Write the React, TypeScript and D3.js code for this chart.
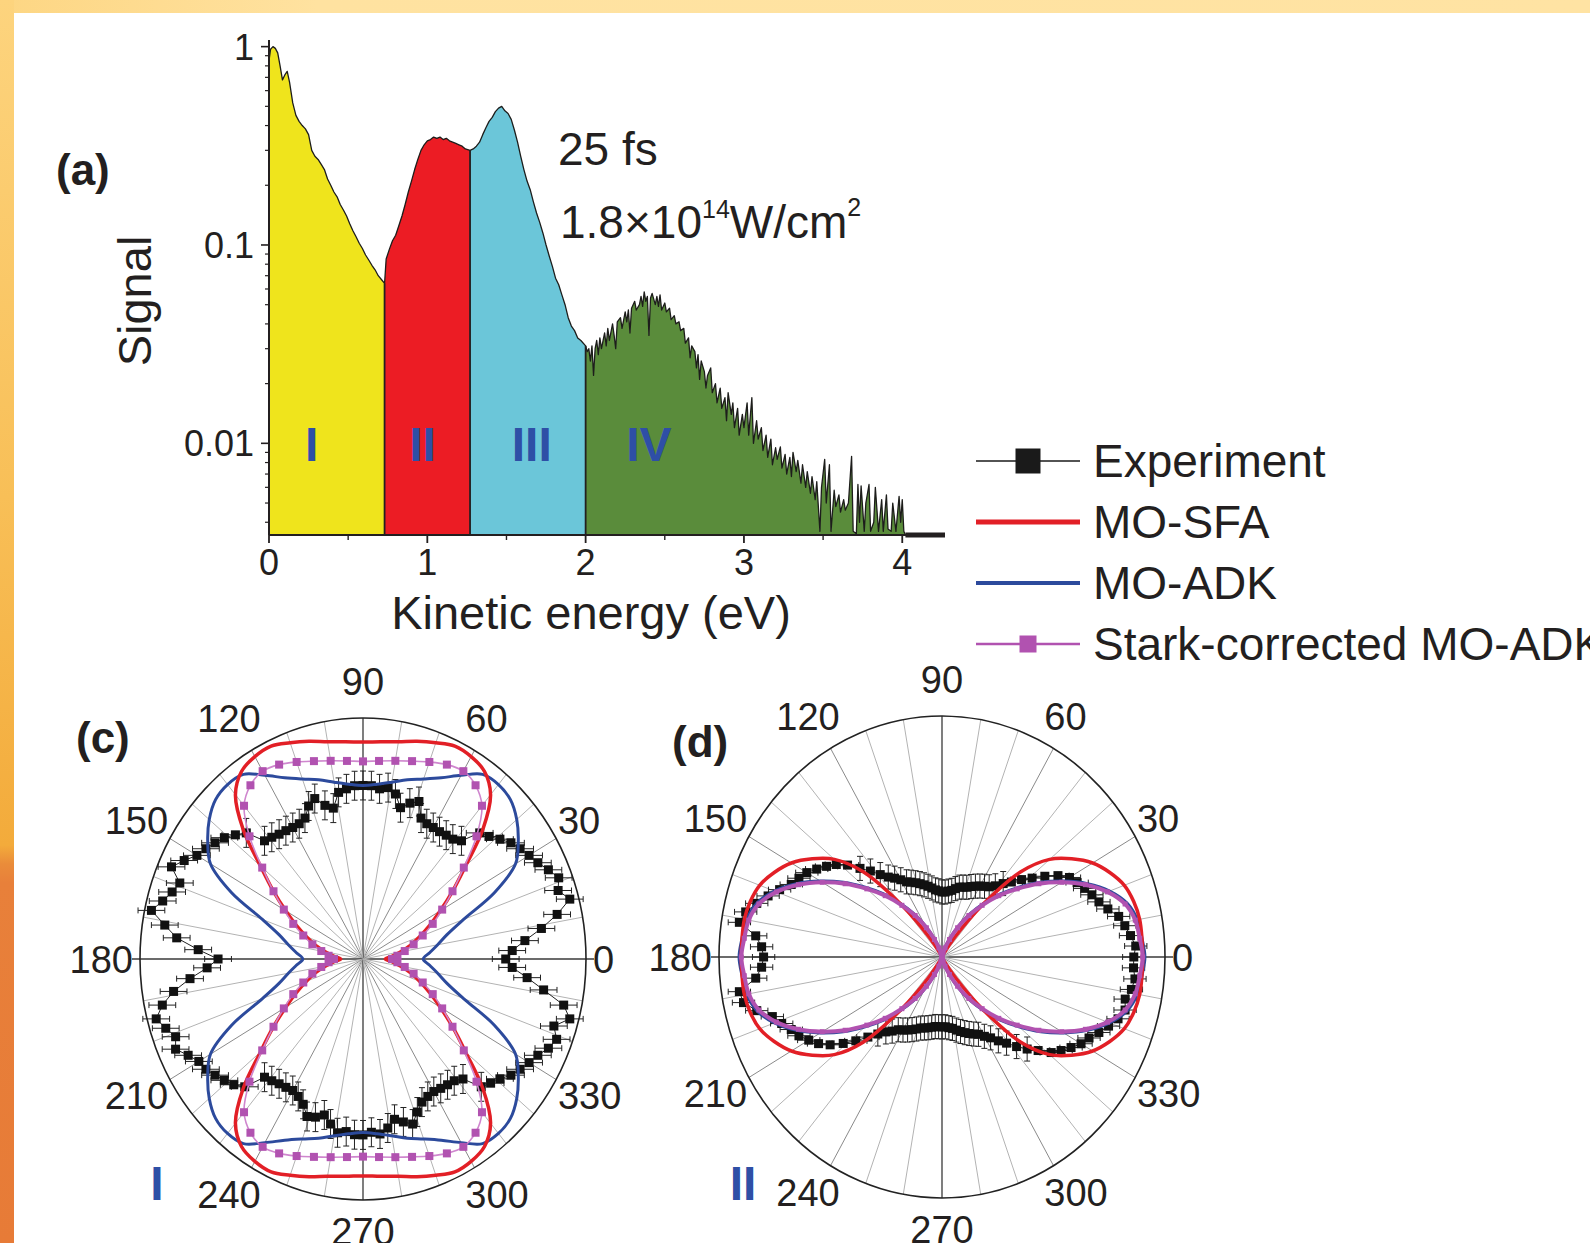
import React, { useEffect, useRef } from 'react';
import * as d3 from 'd3';

const W = 1590;
const H = 1243;
const FONT = '"Liberation Sans", Arial, Helvetica, sans-serif';
const INK = '#231f20';
const ROMAN_BLUE = '#2e4fa6';

// ---------- panel (a): photoelectron spectrum ----------
const regionNames = ['I', 'II', 'III', 'IV'];
const regionEdges = [0, 0.73, 1.27, 2.0, 4.02];
const regionColors = ['#efe41c', '#ec1c24', '#6bc6d9', '#5a8c3b'];
const regionLabelEv = [0.27, 0.97, 1.66, 2.4];
const energyTicks = [0, 1, 2, 3, 4];
const energyMinorTicks = [0.5, 1.5, 2.5, 3.5];
const signalTicks = [1, 0.1, 0.01];
const signalTickLabels = ['1', '0.1', '0.01'];

// [kinetic energy (eV), signal]
const spectrum: [number, number][] = [
  [0.0, 0.85], [0.01, 0.97], [0.025, 1.0], [0.04, 0.98], [0.055, 0.93], [0.07, 0.8], [0.085, 0.68],
  [0.1, 0.72], [0.115, 0.75], [0.13, 0.66], [0.15, 0.52], [0.17, 0.45], [0.19, 0.42], [0.21, 0.4],
  [0.23, 0.385], [0.25, 0.36], [0.27, 0.3], [0.29, 0.28], [0.31, 0.27], [0.33, 0.255], [0.35, 0.24],
  [0.37, 0.215], [0.39, 0.2], [0.41, 0.185], [0.43, 0.175], [0.45, 0.16], [0.47, 0.15], [0.49, 0.14],
  [0.51, 0.128], [0.53, 0.118], [0.55, 0.11], [0.57, 0.102], [0.59, 0.096], [0.61, 0.089], [0.63, 0.084],
  [0.65, 0.079], [0.67, 0.075], [0.69, 0.07], [0.71, 0.067], [0.73, 0.064],
  [0.74, 0.085], [0.76, 0.095], [0.78, 0.105], [0.8, 0.112], [0.82, 0.125], [0.84, 0.14], [0.86, 0.16],
  [0.88, 0.185], [0.9, 0.21], [0.92, 0.24], [0.94, 0.27], [0.96, 0.3], [0.98, 0.32], [1.0, 0.335],
  [1.02, 0.34], [1.04, 0.35], [1.06, 0.345], [1.08, 0.35], [1.1, 0.34], [1.12, 0.345], [1.14, 0.335],
  [1.16, 0.33], [1.18, 0.325], [1.2, 0.32], [1.22, 0.315], [1.24, 0.305], [1.27, 0.3],
  [1.29, 0.305], [1.31, 0.315], [1.33, 0.33], [1.35, 0.36], [1.37, 0.39], [1.39, 0.42], [1.41, 0.44],
  [1.43, 0.47], [1.45, 0.49], [1.47, 0.5], [1.49, 0.475], [1.51, 0.46], [1.53, 0.43], [1.55, 0.38],
  [1.57, 0.33], [1.59, 0.28], [1.61, 0.24], [1.63, 0.21], [1.65, 0.19], [1.67, 0.165], [1.69, 0.145],
  [1.71, 0.13], [1.73, 0.115], [1.75, 0.1], [1.77, 0.088], [1.79, 0.078], [1.81, 0.068], [1.83, 0.063],
  [1.85, 0.056], [1.87, 0.05], [1.89, 0.043], [1.91, 0.039], [1.93, 0.037], [1.95, 0.034], [1.97, 0.033],
  [2.0, 0.031],
  [2.01, 0.029], [2.02, 0.03], [2.03, 0.026], [2.04, 0.031], [2.05, 0.022], [2.06, 0.03], [2.07, 0.033],
  [2.08, 0.028], [2.09, 0.034], [2.1, 0.03], [2.12, 0.036], [2.13, 0.031], [2.14, 0.038], [2.15, 0.033],
  [2.17, 0.04], [2.18, 0.035], [2.19, 0.03], [2.2, 0.041], [2.22, 0.043], [2.23, 0.038], [2.25, 0.046],
  [2.26, 0.041], [2.27, 0.047], [2.28, 0.036], [2.29, 0.048], [2.31, 0.052], [2.32, 0.047], [2.34, 0.05],
  [2.35, 0.055], [2.36, 0.049], [2.37, 0.058], [2.38, 0.052], [2.39, 0.055], [2.4, 0.035], [2.41, 0.054],
  [2.42, 0.057], [2.44, 0.05], [2.45, 0.055], [2.46, 0.049], [2.47, 0.056], [2.48, 0.047], [2.5, 0.051],
  [2.51, 0.046], [2.53, 0.048], [2.54, 0.042], [2.56, 0.044], [2.57, 0.04], [2.59, 0.041], [2.6, 0.037],
  [2.62, 0.038], [2.63, 0.032], [2.65, 0.034], [2.66, 0.027], [2.67, 0.031], [2.69, 0.029], [2.7, 0.024],
  [2.71, 0.028], [2.72, 0.021], [2.73, 0.026], [2.75, 0.023], [2.76, 0.019], [2.77, 0.022], [2.79, 0.024],
  [2.8, 0.018], [2.82, 0.02], [2.83, 0.016], [2.85, 0.019], [2.86, 0.015], [2.88, 0.017], [2.89, 0.013],
  [2.9, 0.018], [2.92, 0.014], [2.93, 0.016], [2.94, 0.012], [2.96, 0.015], [2.97, 0.011], [2.99, 0.014],
  [3.0, 0.012], [3.02, 0.016], [3.03, 0.011], [3.05, 0.017], [3.06, 0.01], [3.08, 0.013], [3.09, 0.0105],
  [3.11, 0.012], [3.12, 0.0092], [3.14, 0.011], [3.15, 0.0085], [3.17, 0.0105], [3.18, 0.0078], [3.2, 0.0095],
  [3.21, 0.0083], [3.23, 0.0096], [3.24, 0.0075], [3.26, 0.0088], [3.27, 0.007], [3.29, 0.0085], [3.3, 0.0068],
  [3.31, 0.009], [3.33, 0.0072], [3.34, 0.0082], [3.36, 0.0063], [3.37, 0.0078], [3.39, 0.006], [3.4, 0.0072],
  [3.42, 0.0056], [3.43, 0.0068], [3.45, 0.0052], [3.46, 0.0064], [3.48, 0.0036], [3.49, 0.006], [3.51, 0.0083],
  [3.52, 0.005], [3.54, 0.0078], [3.55, 0.0036], [3.57, 0.0058], [3.58, 0.0048], [3.6, 0.0055], [3.61, 0.0045],
  [3.63, 0.0052], [3.64, 0.0046], [3.66, 0.005], [3.68, 0.0086], [3.69, 0.0036], [3.71, 0.0035], [3.72, 0.0062],
  [3.73, 0.004], [3.74, 0.0061], [3.76, 0.0036], [3.77, 0.005], [3.79, 0.0062], [3.8, 0.0036], [3.82, 0.004],
  [3.83, 0.006], [3.85, 0.0036], [3.87, 0.0052], [3.88, 0.0036], [3.9, 0.0055], [3.91, 0.0037], [3.93, 0.0036],
  [3.94, 0.005], [3.96, 0.0036], [3.98, 0.0054], [3.99, 0.004], [4.0, 0.0052], [4.01, 0.0036], [4.02, 0.00345],
  [4.27, 0.00345],
];

// ---------- panels (c), (d): angular distributions ----------
const polarTickAngles = [0, 30, 60, 90, 120, 150, 180, 210, 240, 270, 300, 330];
// theory sampled on one quadrant, 0..90 deg in 5 deg steps (normalised radius)
const sfaI = [0.1, 0.13, 0.17, 0.22, 0.27, 0.33, 0.4, 0.49, 0.6, 0.76, 0.89, 0.95, 0.97, 0.975, 0.955, 0.935, 0.915, 0.905, 0.9];
const adkI = [0.27, 0.3, 0.34, 0.39, 0.48, 0.65, 0.79, 0.85, 0.9, 0.935, 0.945, 0.935, 0.88, 0.83, 0.795, 0.77, 0.745, 0.728, 0.72];
const starkI = [0.13, 0.155, 0.19, 0.235, 0.285, 0.345, 0.41, 0.49, 0.59, 0.72, 0.83, 0.88, 0.9, 0.89, 0.87, 0.85, 0.835, 0.825, 0.82];
const sfaII = [0.9, 0.9, 0.9, 0.89, 0.87, 0.83, 0.78, 0.71, 0.63, 0.5, 0.28, 0.1, 0.02, 0, 0, 0, 0, 0, 0];
const adkII = [0.91, 0.9, 0.89, 0.86, 0.8, 0.72, 0.63, 0.54, 0.45, 0.37, 0.29, 0.22, 0.15, 0.09, 0.05, 0.025, 0.012, 0.006, 0.004];
const starkII = [0.9, 0.89, 0.88, 0.85, 0.79, 0.71, 0.62, 0.53, 0.44, 0.36, 0.28, 0.21, 0.14, 0.08, 0.04, 0.02, 0.01, 0.005, 0.003];

// experiment, 0..357 deg in 3 deg steps (normalised radius)
const expI = [
  0.64, 0.67, 0.73, 0.81, 0.89, 0.96, 0.92, 0.94, 0.91, 0.88, 0.86, 0.84, 0.82, 0.79, 0.76, 0.74, 0.66, 0.64, 0.635, 0.63, 0.63, 0.63, 0.64, 0.7, 0.68, 0.65, 0.7, 0.72, 0.71, 0.72,
  0.72, 0.72, 0.71, 0.7, 0.64, 0.66, 0.7, 0.68, 0.64, 0.63, 0.63, 0.635, 0.64, 0.65, 0.66, 0.74, 0.77, 0.8, 0.82, 0.84, 0.86, 0.9, 0.94, 0.88, 0.9, 0.93, 0.97, 0.9, 0.84, 0.74,
  0.65, 0.7, 0.78, 0.86, 0.92, 0.96, 0.93, 0.9, 0.92, 0.88, 0.85, 0.84, 0.82, 0.8, 0.78, 0.75, 0.66, 0.65, 0.64, 0.635, 0.63, 0.64, 0.66, 0.7, 0.69, 0.67, 0.7, 0.73, 0.72, 0.73,
  0.73, 0.72, 0.73, 0.71, 0.68, 0.7, 0.72, 0.68, 0.65, 0.64, 0.635, 0.64, 0.645, 0.65, 0.67, 0.75, 0.77, 0.79, 0.82, 0.84, 0.86, 0.88, 0.91, 0.93, 0.9, 0.96, 0.92, 0.82, 0.74, 0.67,
];
const expII = [
  0.86, 0.87, 0.85, 0.83, 0.81, 0.77, 0.74, 0.72, 0.7, 0.68, 0.66, 0.62, 0.57, 0.52, 0.48, 0.44, 0.41, 0.38, 0.36, 0.35, 0.34, 0.33, 0.32, 0.31, 0.305, 0.3, 0.29, 0.28, 0.275, 0.27,
  0.27, 0.275, 0.28, 0.29, 0.3, 0.31, 0.32, 0.33, 0.34, 0.35, 0.37, 0.39, 0.41, 0.44, 0.48, 0.52, 0.57, 0.61, 0.64, 0.67, 0.7, 0.72, 0.74, 0.78, 0.82, 0.86, 0.9, 0.92, 0.84, 0.81,
  0.8, 0.81, 0.84, 0.92, 0.91, 0.86, 0.8, 0.77, 0.74, 0.72, 0.69, 0.66, 0.62, 0.57, 0.52, 0.47, 0.43, 0.4, 0.38, 0.36, 0.35, 0.34, 0.33, 0.32, 0.31, 0.305, 0.3, 0.295, 0.29, 0.29,
  0.29, 0.29, 0.295, 0.3, 0.31, 0.32, 0.33, 0.34, 0.35, 0.36, 0.38, 0.4, 0.43, 0.46, 0.5, 0.54, 0.58, 0.63, 0.66, 0.69, 0.72, 0.74, 0.77, 0.8, 0.83, 0.85, 0.84, 0.86, 0.87, 0.86,
];
const expErrI = 0.06;
const expErrII = 0.05;

const legendLabels = ['Experiment', 'MO-SFA', 'MO-ADK', 'Stark-corrected MO-ADK'];
const legendColors = ['#1a1a1a', '#e21f26', '#2c4a9c', '#b152b0'];

const SFA_RED = '#e21f26';
const ADK_BLUE = '#2c4a9c';
const STARK_MAG = '#b152b0';

function txt(g: any, x: number, y: number, s: string, size: number, opts: any = {}) {
  return g.append('text')
    .attr('x', x).attr('y', y)
    .attr('font-family', FONT)
    .attr('font-size', size)
    .attr('font-weight', opts.bold ? 'bold' : 'normal')
    .attr('fill', opts.fill || INK)
    .attr('text-anchor', opts.anchor || 'start')
    .attr('dy', opts.dy || null)
    .text(s);
}

function drawBackground(svg: any) {
  const defs = svg.append('defs');
  const side = defs.append('linearGradient').attr('id', 'sideStrip')
    .attr('x1', 0).attr('y1', 0).attr('x2', 0).attr('y2', 1);
  [[0, '#fdd47e'], [0.4, '#f8bf57'], [0.68, '#f3ab3b'], [0.695, '#ea8c3a'], [0.71, '#e8803a'], [1, '#e77b37']]
    .forEach(([o, c]) => side.append('stop').attr('offset', o).attr('stop-color', c));
  const top = defs.append('linearGradient').attr('id', 'topStrip')
    .attr('x1', 0).attr('y1', 0).attr('x2', 1).attr('y2', 0);
  [[0, '#fdd683'], [0.2, '#ffe2a0'], [1, '#ffe3a3']]
    .forEach(([o, c]) => top.append('stop').attr('offset', o).attr('stop-color', c));

  svg.append('rect').attr('width', W).attr('height', H).attr('fill', '#ffffff');
  svg.append('rect').attr('width', W).attr('height', 13).attr('fill', 'url(#topStrip)');
  svg.append('rect').attr('width', 14).attr('height', H).attr('fill', 'url(#sideStrip)');
}

function drawSpectrum(svg: any) {
  const x = d3.scaleLinear().domain([0, 4.27]).range([269, 945]);
  const y = d3.scaleLog().domain([0.00345, 1.08]).range([535, 40]);
  const floor = y.domain()[0];
  const g = svg.append('g');

  const area = d3.area<[number, number]>()
    .x(d => x(d[0]))
    .y0(y(floor))
    .y1(d => y(Math.max(d[1], floor)));

  regionColors.forEach((c, i) => {
    const pts = spectrum.filter(d => d[0] >= regionEdges[i] - 1e-6 && d[0] <= regionEdges[i + 1] + 1e-6);
    g.append('path').attr('d', area(pts)).attr('fill', c);
  });

  const line = d3.line<[number, number]>().x(d => x(d[0])).y(d => y(Math.max(d[1], floor)));
  g.append('path').attr('d', line(spectrum))
    .attr('fill', 'none').attr('stroke', '#1d1d1b').attr('stroke-width', 1.3).attr('stroke-linejoin', 'round');

  // region separators
  regionEdges.slice(1, 4).forEach(e => {
    const p = spectrum.find(d => Math.abs(d[0] - e) < 1e-6);
    g.append('line')
      .attr('x1', x(e)).attr('x2', x(e))
      .attr('y1', y(p ? p[1] : floor)).attr('y2', y(floor))
      .attr('stroke', INK).attr('stroke-width', 1.8);
  });

  // axes
  g.append('line').attr('x1', x(0)).attr('x2', x(0)).attr('y1', y(1.08)).attr('y2', y(floor))
    .attr('stroke', INK).attr('stroke-width', 2);
  g.append('line').attr('x1', x(0)).attr('x2', x(4.27)).attr('y1', y(floor)).attr('y2', y(floor))
    .attr('stroke', INK).attr('stroke-width', 2.2);
  g.append('path').attr('d', line(spectrum.filter(d => d[0] >= 4.02)))
    .attr('stroke', INK).attr('stroke-width', 5).attr('fill', 'none');

  // y ticks (log)
  const minor: number[] = [];
  [0.001, 0.01, 0.1].forEach(dec => {
    for (let k = 2; k <= 9; k++) {
      const v = k * dec;
      if (v >= floor && v <= 1.08) minor.push(v);
    }
  });
  minor.forEach(v => g.append('line').attr('x1', x(0) - 4).attr('x2', x(0)).attr('y1', y(v)).attr('y2', y(v))
    .attr('stroke', INK).attr('stroke-width', 1.2));
  signalTicks.forEach((v, i) => {
    g.append('line').attr('x1', x(0) - 8).attr('x2', x(0)).attr('y1', y(v)).attr('y2', y(v))
      .attr('stroke', INK).attr('stroke-width', 1.6);
    txt(g, x(0) - 15, y(v), signalTickLabels[i], 36, { anchor: 'end', dy: '0.36em' });
  });

  // x ticks
  energyMinorTicks.forEach(v => g.append('line').attr('x1', x(v)).attr('x2', x(v))
    .attr('y1', y(floor)).attr('y2', y(floor) + 5).attr('stroke', INK).attr('stroke-width', 1.4));
  energyTicks.forEach(v => {
    g.append('line').attr('x1', x(v)).attr('x2', x(v)).attr('y1', y(floor)).attr('y2', y(floor) + 8)
      .attr('stroke', INK).attr('stroke-width', 1.8);
    txt(g, x(v), y(floor) + 40, String(v), 36, { anchor: 'middle' });
  });

  // region numerals
  regionNames.forEach((n, i) => {
    txt(g, x(regionLabelEv[i]), 461, n, 48, { anchor: 'middle', bold: true, fill: ROMAN_BLUE });
  });

  // titles and annotations
  txt(g, 591, 629, 'Kinetic energy (eV)', 47, { anchor: 'middle' });
  g.append('text')
    .attr('transform', 'translate(151,301) rotate(-90)')
    .attr('font-family', FONT).attr('font-size', 47).attr('fill', INK)
    .attr('text-anchor', 'middle').text('Signal');
  txt(g, 56, 185, '(a)', 44, { bold: true });
  txt(g, 558, 165, '25 fs', 46);

  const t = g.append('text').attr('x', 560).attr('y', 238)
    .attr('font-family', FONT).attr('font-size', 46).attr('fill', INK);
  t.append('tspan').text('1.8×10');
  t.append('tspan').attr('font-size', 25).attr('dy', -20).text('14');
  t.append('tspan').attr('dy', 20).text('W/cm');
  t.append('tspan').attr('font-size', 25).attr('dy', -22).text('2');
}

function drawLegend(svg: any) {
  const g = svg.append('g');
  legendLabels.forEach((label, i) => {
    const cy = 461 + i * 61;
    const c = legendColors[i];
    const sw = i === 0 ? 1.5 : i === 1 ? 5 : i === 2 ? 4 : 2.5;
    g.append('line').attr('x1', 976).attr('x2', 1080).attr('y1', cy).attr('y2', cy)
      .attr('stroke', c).attr('stroke-width', sw);
    if (i === 0) {
      g.append('rect').attr('x', 1028 - 12.5).attr('y', cy - 12.5).attr('width', 25).attr('height', 25).attr('fill', c);
    }
    if (i === 3) {
      g.append('rect').attr('x', 1028 - 8.5).attr('y', cy - 8.5).attr('width', 17).attr('height', 17).attr('fill', c);
    }
    txt(g, 1093, cy + 16, label, 46);
  });
}

const RX = 223;
const RY = 241;

function fullTurn(quad: number[]) {
  return d3.range(0, 360, 5).map(a => {
    const q = a <= 90 ? a : a <= 180 ? 180 - a : a <= 270 ? a - 180 : 360 - a;
    return { a, r: quad[q / 5] };
  });
}

function drawPolar(svg: any, cfg: any) {
  const { cx, cy, sfa, adk, stark, exp, err, region, regionX, panel, panelX, panelY, thickStark } = cfg;
  const g = svg.append('g');
  const sx = d3.scaleLinear().domain([0, 1]).range([0, RX]);
  const sy = d3.scaleLinear().domain([0, 1]).range([0, RY]);
  const rad = (a: number) => (a * Math.PI) / 180;
  const px = (a: number, r: number) => cx + sx(r) * Math.cos(rad(a));
  const py = (a: number, r: number) => cy - sy(r) * Math.sin(rad(a));

  // radial grid
  d3.range(0, 360, 10).forEach(a => {
    const major = a % 90 === 0;
    const ext = a % 180 === 0 ? 8 / RX : 0;
    g.append('line')
      .attr('x1', cx).attr('y1', cy)
      .attr('x2', px(a, 1 + ext)).attr('y2', py(a, 1 + ext))
      .attr('stroke', major ? '#3a3a3a' : a % 30 === 0 ? '#8a8a8a' : '#b3b3b3')
      .attr('stroke-width', major ? 1.3 : 1);
  });
  g.append('ellipse').attr('cx', cx).attr('cy', cy).attr('rx', RX).attr('ry', RY)
    .attr('fill', 'none').attr('stroke', '#222').attr('stroke-width', 1.6);

  // angle labels
  polarTickAngles.forEach(a => {
    const c = Math.cos(rad(a));
    const s = Math.sin(rad(a));
    let anchor = 'middle';
    let lx = cx;
    if (Math.abs(c) > 0.01) {
      anchor = c > 0 ? 'start' : 'end';
      lx = cx + Math.sign(c) * ((RX + 7) * Math.abs(c) - 17 * s * s);
    }
    const ly = cy - (s >= 0 ? RY + 37 : RY + 31) * s;
    txt(g, lx, ly, String(a), 38, { anchor, dy: '0.36em' });
  });

  // experiment
  const expPts = exp.map((r: number, i: number) => ({ a: i * 3, r }));
  const eg = g.append('g');
  expPts.forEach((d: any) => {
    const x0 = px(d.a, d.r);
    const y0 = py(d.a, d.r);
    const horiz = Math.abs(Math.cos(rad(d.a))) > Math.abs(Math.sin(rad(d.a)));
    if (horiz) {
      const e = sx(err);
      eg.append('line').attr('x1', x0 - e).attr('x2', x0 + e).attr('y1', y0).attr('y2', y0);
      eg.append('line').attr('x1', x0 - e).attr('x2', x0 - e).attr('y1', y0 - 3).attr('y2', y0 + 3);
      eg.append('line').attr('x1', x0 + e).attr('x2', x0 + e).attr('y1', y0 - 3).attr('y2', y0 + 3);
    } else {
      const e = sy(err);
      eg.append('line').attr('x1', x0).attr('x2', x0).attr('y1', y0 - e).attr('y2', y0 + e);
      eg.append('line').attr('x1', x0 - 3).attr('x2', x0 + 3).attr('y1', y0 - e).attr('y2', y0 - e);
      eg.append('line').attr('x1', x0 - 3).attr('x2', x0 + 3).attr('y1', y0 + e).attr('y2', y0 + e);
    }
  });
  eg.selectAll('line').attr('stroke', '#222').attr('stroke-width', 1);
  const expLine = d3.line<any>().x(d => px(d.a, d.r)).y(d => py(d.a, d.r)).curve(d3.curveLinearClosed);
  g.append('path').attr('d', expLine(expPts)).attr('fill', 'none').attr('stroke', '#222').attr('stroke-width', 1);
  g.selectAll(null).data(expPts).enter().append('rect')
    .attr('x', (d: any) => px(d.a, d.r) - 4.5).attr('y', (d: any) => py(d.a, d.r) - 4.5)
    .attr('width', 9).attr('height', 9).attr('fill', '#111');

  // theory curves
  const curve = d3.line<any>().x(d => px(d.a, d.r)).y(d => py(d.a, d.r)).curve(d3.curveCatmullRomClosed.alpha(0.5));
  g.append('path').attr('d', curve(fullTurn(adk))).attr('fill', 'none').attr('stroke', ADK_BLUE).attr('stroke-width', 3);
  g.append('path').attr('d', curve(fullTurn(sfa))).attr('fill', 'none').attr('stroke', SFA_RED).attr('stroke-width', 3.5);
  const starkPts = fullTurn(stark);
  g.append('path').attr('d', curve(starkPts)).attr('fill', 'none')
    .attr('stroke', thickStark ? STARK_MAG : '#cf86ce').attr('stroke-width', thickStark ? 4 : 1.6);
  const ms = thickStark ? 5 : 8;
  g.selectAll(null).data(starkPts).enter().append('rect')
    .attr('x', (d: any) => px(d.a, d.r) - ms / 2).attr('y', (d: any) => py(d.a, d.r) - ms / 2)
    .attr('width', ms).attr('height', ms).attr('fill', STARK_MAG);

  // panel tag and region numeral
  txt(g, panelX, panelY, panel, 44, { bold: true });
  txt(g, regionX, 1200, region, 48, { bold: true, fill: ROMAN_BLUE, anchor: 'middle' });
}

export default function App() {
  const ref = useRef<SVGSVGElement>(null);
  useEffect(() => {
    const svg = d3.select(ref.current);
    svg.selectAll('*').remove();
    drawBackground(svg);
    drawSpectrum(svg);
    drawLegend(svg);
    drawPolar(svg, {
      cx: 363, cy: 959, sfa: sfaI, adk: adkI, stark: starkI, exp: expI, err: expErrI,
      region: regionNames[0], regionX: 157, panel: '(c)', panelX: 76, panelY: 753, thickStark: false,
    });
    drawPolar(svg, {
      cx: 942, cy: 957, sfa: sfaII, adk: adkII, stark: starkII, exp: expII, err: expErrII,
      region: regionNames[1], regionX: 743, panel: '(d)', panelX: 672, panelY: 757, thickStark: true,
    });
  }, []);
  return (
    <svg ref={ref} width={W} height={H} style={{ position: 'absolute', left: 0, top: 0, display: 'block' }} />
  );
}
